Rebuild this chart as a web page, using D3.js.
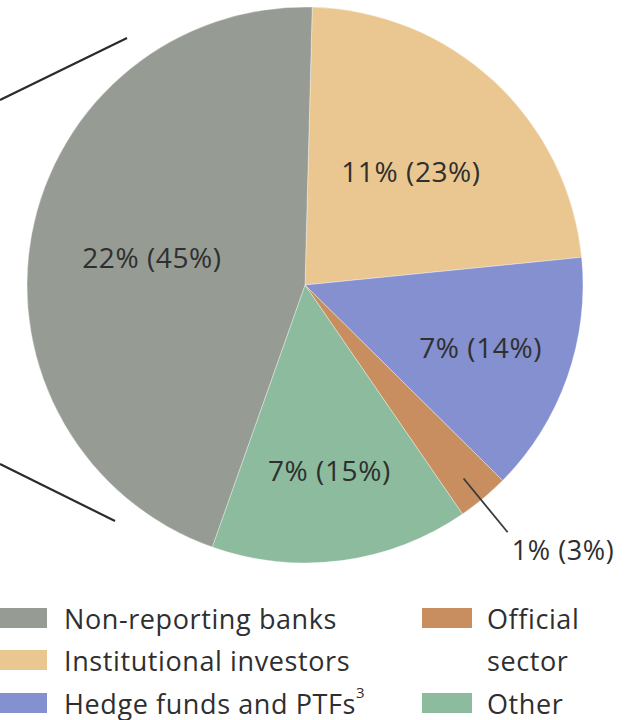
<!DOCTYPE html>
<html>
<head>
<meta charset="utf-8">
<script src="https://cdn.jsdelivr.net/npm/d3@7"></script>
<style>
  html, body { margin: 0; padding: 0; background: #fff; }
  svg { display: block; font-family: "Open Sans", "Noto Sans", sans-serif; }
</style>
</head>
<body>
<svg id="chart" width="628" height="720"></svg>
<script>
// Slices in clockwise order from 12 o'clock
const sectors = ["Institutional investors", "Hedge funds and PTFs", "Official sector", "Other", "Non-reporting banks"];
const shareOfSegment = [23, 14, 3, 15, 45];   // value in brackets, drives the slice size
const shareOfTotal = [11, 7, 1, 7, 22];        // leading value of each label
const sectorColors = ["#eac791", "#8490cf", "#c98e5f", "#8cbb9d", "#969b94"];

// Legend layout: two columns
const legendLeft = ["Non-reporting banks", "Institutional investors", "Hedge funds and PTFs"];
const legendRight = ["Official sector", "Other"];

const svg = d3.select("#chart");
const cx = 305, cy = 285, R = 278;
const textColor = "#2f2f2f";
const start = 0.026; // slight clockwise rotation of the first slice edge

const color = d3.scaleOrdinal().domain(sectors).range(sectorColors);

const pie = d3.pie().sort(null).value(d => d.value)
  .startAngle(start).endAngle(2 * Math.PI + start);
const data = sectors.map((s, i) => ({ name: s, value: shareOfSegment[i], total: shareOfTotal[i] }));
const arcs = pie(data);
const arc = d3.arc().innerRadius(0).outerRadius(R);

// Connector lines from the preceding panel
svg.append("line").attr("x1", 0).attr("y1", 100).attr("x2", 127).attr("y2", 38)
  .attr("stroke", "#2b2b2b").attr("stroke-width", 2.2);
svg.append("line").attr("x1", 0).attr("y1", 464).attr("x2", 115).attr("y2", 521)
  .attr("stroke", "#2b2b2b").attr("stroke-width", 2.2);

const g = svg.append("g").attr("transform", `translate(${cx},${cy})`);

g.selectAll("path.slice")
  .data(arcs)
  .join("path")
  .attr("class", "slice")
  .attr("d", arc)
  .attr("fill", d => color(d.data.name))
  .attr("stroke", "rgba(255,255,255,0.35)")
  .attr("stroke-width", 1);

const fmt = d => `${d.data.total}% (${d.data.value}%)`;
const mid = d => (d.startAngle + d.endAngle) / 2;
const labelR = d => R * (d.data.value > 20 ? 0.56 : 0.67);

// Labels inside the larger slices
const inside = arcs.filter(d => d.data.value >= 10);
g.selectAll("text.inlabel")
  .data(inside)
  .join("text")
  .attr("class", "inlabel")
  .attr("x", d => Math.sin(mid(d)) * labelR(d))
  .attr("y", d => -Math.cos(mid(d)) * labelR(d))
  .attr("text-anchor", "middle")
  .attr("dominant-baseline", "central")
  .attr("font-size", 28)
  .attr("letter-spacing", 0.6)
  .attr("fill", textColor)
  .text(fmt);

// Small slice labelled outside with a leader line
const outside = arcs.filter(d => d.data.value < 10);
outside.forEach(d => {
  const a = mid(d) + 0.01;
  const x1 = Math.sin(a) * R * 0.9, y1 = -Math.cos(a) * R * 0.9;
  const x2 = Math.sin(a) * R * 1.15, y2 = -Math.cos(a) * R * 1.15;
  g.append("line").attr("x1", x1).attr("y1", y1).attr("x2", x2).attr("y2", y2)
    .attr("stroke", "#3a3a3a").attr("stroke-width", 1.8);
  g.append("text")
    .attr("x", x2 + 4).attr("y", y2 + 17)
    .attr("dominant-baseline", "central")
    .attr("font-size", 27)
    .attr("letter-spacing", 0.6)
    .attr("fill", textColor)
    .text(fmt(d));
});

// Legend
const rowY = [618, 660, 703];
const legendText = (x, y, s) => leg.append("text").attr("x", x).attr("y", y)
  .attr("dominant-baseline", "central").attr("font-size", 27)
  .attr("letter-spacing", 0.6).attr("fill", textColor).text(s);
const leg = svg.append("g");
legendLeft.forEach((name, i) => {
  leg.append("rect").attr("x", -2).attr("y", rowY[i] - 10).attr("width", 49).attr("height", 20)
    .attr("fill", color(name));
  const t = legendText(64, rowY[i], name);
  if (name === "Hedge funds and PTFs") {
    t.append("tspan").attr("dy", -11).attr("font-size", 15).attr("letter-spacing", 0).text("3");
  }
});
// Right column: "Official sector" wraps onto two lines
leg.append("rect").attr("x", 422).attr("y", rowY[0] - 10).attr("width", 50).attr("height", 20)
  .attr("fill", color(legendRight[0]));
legendText(487, rowY[0], legendRight[0].split(" ")[0]);
legendText(487, rowY[1], legendRight[0].split(" ")[1]);
leg.append("rect").attr("x", 422).attr("y", rowY[2] - 10).attr("width", 50).attr("height", 20)
  .attr("fill", color(legendRight[1]));
legendText(487, rowY[2], legendRight[1]);
</script>
</body>
</html>
